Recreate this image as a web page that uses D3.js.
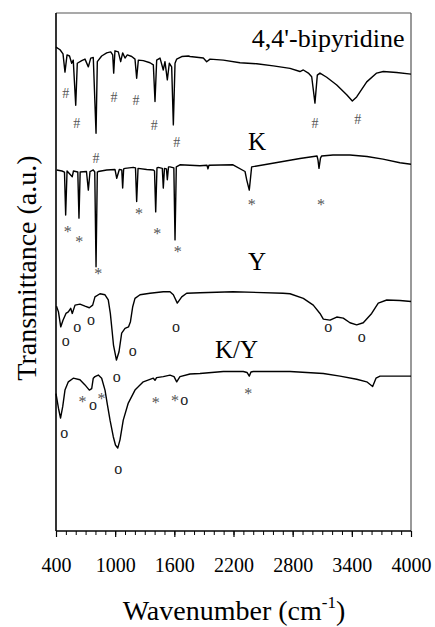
<!DOCTYPE html>
<html><head><meta charset="utf-8">
<script src="https://cdn.jsdelivr.net/npm/d3@7/dist/d3.min.js"></script>
<style>
html,body{margin:0;padding:0;background:#fff;}
svg{display:block;}
svg text{font-family:"Liberation Serif","DejaVu Serif","Times New Roman",serif;}
</style>
</head><body>
<svg id="chart" width="435" height="627"></svg>
<script>
// ---- data (wavenumber cm-1, transmittance a.u.) ----
const xTickLabels = [400, 1000, 1600, 2200, 2800, 3400, 4000];
const seriesNames = ["4,4'-bipyridine", "K", "Y", "K/Y"];

const bipy = [[400,93.4],[441,92.9],[471,92.1],[491,88.6],[512,91.9],[537,91.7],[559,90.3],[575,90.9],[600,82.2],[616,90.3],[661,90.8],[694,91.1],[728,89.6],[752,91.3],[778,91.4],[806,76.8],[819,90.6],[863,91.7],[914,92.3],[955,92.5],[975,91.9],[985,88.4],[998,92.7],[1032,92.5],[1056,90.6],[1076,92.3],[1100,91.3],[1123,91.9],[1168,91.6],[1201,91.1],[1218,87.4],[1235,90.9],[1285,90.8],[1353,90.4],[1387,90.0],[1404,82.9],[1421,90.9],[1455,91.3],[1488,89.0],[1505,90.6],[1529,87.1],[1549,90.3],[1573,89.6],[1590,78.4],[1607,90.3],[1624,91.1],[1675,91.6],[1742,91.7],[1759,91.6],[1894,91.3],[1928,90.6],[1962,91.1],[2097,90.9],[2266,90.4],[2435,90.2],[2604,89.8],[2773,89.3],[2874,88.7],[2908,89.0],[2959,88.4],[2993,87.7],[3026,82.6],[3050,88.0],[3077,88.4],[3145,87.6],[3247,86.1],[3348,84.2],[3405,83.0],[3449,83.8],[3551,86.7],[3652,88.4],[3719,88.7],[3855,88.5],[4000,88.2]];

const kSeries = [[407,69.7],[461,69.5],[486,69.3],[498,61.0],[512,69.5],[565,68.4],[577,69.5],[621,69.3],[633,60.4],[645,69.3],[709,69.4],[728,65.8],[745,69.4],[778,69.7],[793,69.3],[806,51.0],[819,69.3],[829,69.4],[914,69.7],[998,69.8],[1016,68.1],[1042,69.8],[1067,69.7],[1076,66.2],[1086,69.9],[1100,70.0],[1184,70.2],[1206,70.1],[1218,63.6],[1232,70.0],[1320,69.8],[1387,69.7],[1399,69.5],[1411,61.6],[1424,70.1],[1437,70.2],[1478,70.0],[1488,66.2],[1500,70.0],[1520,69.9],[1529,67.8],[1541,70.3],[1556,70.3],[1595,70.1],[1607,56.2],[1620,70.3],[1657,70.7],[1860,70.5],[1931,70.6],[1941,69.9],[1951,70.6],[2195,70.7],[2317,69.4],[2334,67.8],[2360,65.8],[2374,68.4],[2384,70.3],[2540,70.8],[2874,71.9],[3047,72.4],[3057,71.6],[3067,70.0],[3082,72.0],[3094,72.4],[3209,72.6],[3381,72.6],[3554,72.3],[3716,71.8],[3888,71.1],[4000,70.8]];

const ySeries = [[405,43.4],[425,42.3],[448,39.4],[471,40.7],[501,42.0],[525,42.3],[549,43.0],[565,42.0],[593,43.6],[643,43.8],[694,43.4],[738,43.1],[772,43.6],[795,45.2],[846,45.8],[897,45.6],[930,44.6],[951,42.0],[968,38.8],[983,35.9],[1013,33.0],[1039,34.6],[1066,38.2],[1100,39.1],[1135,39.4],[1155,40.4],[1178,43.3],[1201,44.9],[1252,45.6],[1353,45.9],[1488,46.2],[1556,46.2],[1590,45.6],[1630,44.0],[1675,45.2],[1725,45.9],[1860,46.0],[2195,46.2],[2702,45.9],[2773,45.8],[2908,44.9],[3009,43.6],[3077,42.0],[3111,40.9],[3179,40.7],[3247,41.3],[3313,41.1],[3381,40.2],[3449,39.8],[3516,40.2],[3601,42.0],[3668,44.0],[3754,44.6],[3888,44.5],[4000,44.3]];

const kySeries = [[400,26.5],[425,23.7],[446,21.8],[468,24.0],[491,27.2],[525,28.8],[575,29.5],[643,29.2],[694,28.2],[738,27.2],[762,27.5],[778,29.5],[795,29.8],[829,30.1],[863,29.5],[897,27.2],[922,24.3],[948,21.4],[981,18.2],[1003,16.6],[1026,16.0],[1049,17.6],[1082,21.4],[1133,24.7],[1201,27.2],[1285,28.8],[1387,29.5],[1404,29.1],[1420,29.6],[1488,29.8],[1556,30.1],[1597,29.8],[1624,28.8],[1657,29.8],[1759,30.3],[1860,30.4],[2097,30.8],[2299,30.8],[2337,30.6],[2360,29.9],[2377,30.7],[2401,30.8],[2773,30.8],[3111,30.4],[3280,29.9],[3449,29.3],[3551,28.8],[3611,27.9],[3645,29.5],[3686,29.9],[4000,29.9]];

// band markers: [wavenumber, T, symbol]
const bipyMarks = [[498,84.5,"#"],[610,78.8,"#"],[806,71.9,"#"],[988,83.7,"#"],[1211,83.1,"#"],[1397,78.4,"#"],[1624,75.0,"#"],[3026,78.7,"#"],[3459,79.5,"#"]];
const kMarks = [[519,58.1,"*"],[636,56.2,"*"],[829,50.1,"*"],[1242,61.6,"*"],[1427,57.8,"*"],[1634,54.4,"*"],[2384,63.3,"*"],[3087,63.4,"*"]];
const yMarks = [[498,36.5,"o"],[616,39.1,"o"],[755,40.4,"o"],[1016,29.5,"o"],[1178,34.4,"o"],[1617,39.1,"o"],[3161,39.1,"o"],[3500,37.2,"o"]];
const kyMarks = [[484,18.7,"o"],[668,25.4,"*"],[776,24.0,"o"],[862,25.9,"*"],[1032,11.8,"o"],[1411,25.2,"*"],[1607,25.6,"*"],[1701,25.0,"o"],[2350,26.9,"*"]];

// ---- drawing ----
const svg = d3.select("#chart");
const pL = 56, pR = 411, pT = 13, pB = 531;
const x = d3.scaleLinear().domain([400, 4000]).range([pL, pR]);
const y = d3.scaleLinear().domain([0, 100]).range([pB, pT]);

// frame
svg.append("line").attr("x1", pL).attr("x2", pR).attr("y1", pT).attr("y2", pT)
  .attr("stroke", "#555").attr("stroke-width", 1.2);
svg.append("line").attr("x1", pR).attr("x2", pR).attr("y1", pT).attr("y2", pB)
  .attr("stroke", "#555").attr("stroke-width", 1.2);

// x axis minor + major ticks
const minorAxis = d3.axisBottom(x).tickValues(d3.range(400, 4001, 100)).tickSize(4).tickFormat("");
const gMin = svg.append("g").attr("transform", `translate(0,${pB})`).call(minorAxis);
gMin.select(".domain").remove();
gMin.selectAll("line").attr("stroke", "#000").attr("stroke-width", 1);

const majorAxis = d3.axisBottom(x).tickValues(xTickLabels).tickSize(6).tickPadding(21).tickFormat(d3.format("d"));
const gMaj = svg.append("g").attr("transform", `translate(0,${pB})`).call(majorAxis);
gMaj.attr("font-family", null);
gMaj.select(".domain").remove();
gMaj.selectAll("line").attr("stroke", "#000").attr("stroke-width", 1.2);
gMaj.selectAll("text").attr("font-size", 20).attr("fill", "#000");

// left and bottom axis lines
svg.append("line").attr("x1", pL).attr("x2", pL).attr("y1", pT).attr("y2", pB)
  .attr("stroke", "#000").attr("stroke-width", 1.6);
svg.append("line").attr("x1", pL).attr("x2", pR).attr("y1", pB).attr("y2", pB)
  .attr("stroke", "#000").attr("stroke-width", 1.6);

// spectra
const line = d3.line().x(d => x(d[0])).y(d => y(d[1]));
[bipy, kSeries, ySeries, kySeries].forEach(s => {
  svg.append("path").datum(s).attr("d", line)
    .attr("fill", "none").attr("stroke", "#000").attr("stroke-width", 1.4)
    .attr("stroke-linejoin", "round");
});

// band markers
const symStyle = {
  "#": {size: 14, fill: "#555", shift: 0.34},
  "*": {size: 16, fill: "#555", shift: 0.46},
  "o": {size: 16, fill: "#222", shift: 0.23}
};
[bipyMarks, kMarks, yMarks, kyMarks].forEach(ms => {
  svg.append("g").selectAll("text").data(ms).join("text")
    .attr("x", d => x(d[0]))
    .attr("y", d => y(d[1]) + symStyle[d[2]].size * symStyle[d[2]].shift)
    .attr("text-anchor", "middle")
    .attr("font-size", d => symStyle[d[2]].size)
    .attr("fill", d => symStyle[d[2]].fill)
    .text(d => d[2]);
});

// spectrum labels
const labelPos = [[3935, 93.4, "end", 26], [2438, 73.6, "middle", 25], [2438, 50.4, "middle", 25], [2230, 33.4, "middle", 25]];
seriesNames.forEach((n, i) => {
  svg.append("text").attr("x", x(labelPos[i][0])).attr("y", y(labelPos[i][1]))
    .attr("text-anchor", labelPos[i][2]).attr("font-size", labelPos[i][3])
    .attr("fill", "#000").text(n);
});

// axis titles
const xt = svg.append("text").attr("x", 234).attr("y", 620).attr("text-anchor", "middle")
  .attr("font-size", 28).attr("fill", "#000");
xt.append("tspan").text("Wavenumber (cm");
xt.append("tspan").attr("font-size", 17).attr("dy", -12).text("-1");
xt.append("tspan").attr("dy", 12).text(")");

svg.append("text").attr("transform", "translate(36,268) rotate(-90)").attr("text-anchor", "middle")
  .attr("font-size", 28).attr("fill", "#000")
  .text("Transmittance (a.u.)");
</script>
</body></html>
